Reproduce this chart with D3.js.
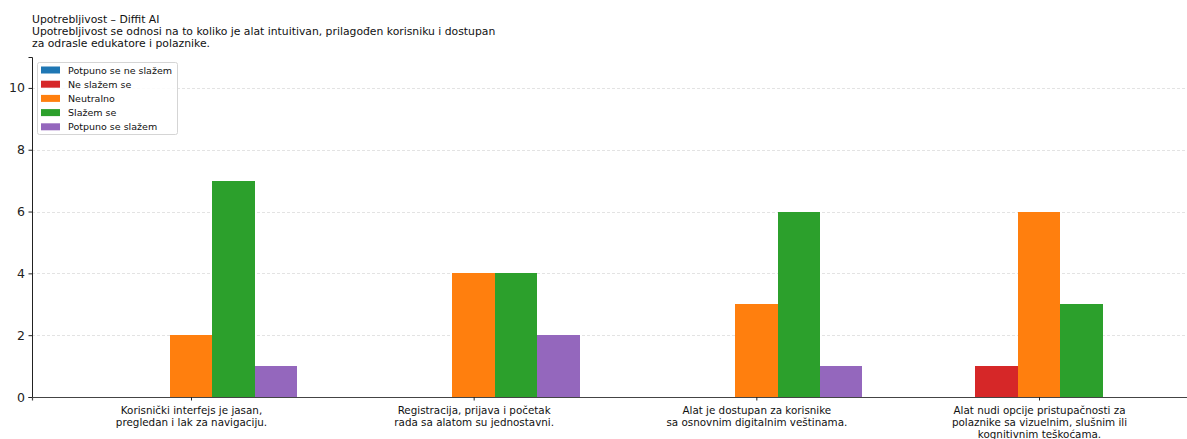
<!DOCTYPE html>
<html>
<head>
<meta charset="utf-8">
<script src="https://cdn.jsdelivr.net/npm/d3@7"></script>
<style>
  html, body { margin: 0; padding: 0; background: #fff; }
  svg { display: block; font-family: "DejaVu Sans", sans-serif; }
</style>
</head>
<body>
<svg id="chart" width="1187" height="439"></svg>
<script>
const titleLines = [
  "Upotrebljivost – Diffit AI",
  "Upotrebljivost se odnosi na to koliko je alat intuitivan, prilagođen korisniku i dostupan",
  "za odrasle edukatore i polaznike."
];
const categories = [
  "Korisnički interfejs je jasan,\npregledan i lak za navigaciju.",
  "Registracija, prijava i početak\nrada sa alatom su jednostavni.",
  "Alat je dostupan za korisnike\nsa osnovnim digitalnim veštinama.",
  "Alat nudi opcije pristupačnosti za\npolaznike sa vizuelnim, slušnim ili\nkognitivnim teškoćama."
];
const seriesNames = ["Potpuno se ne slažem", "Ne slažem se", "Neutralno", "Slažem se", "Potpuno se slažem"];
const seriesColors = ["#1f77b4", "#d62728", "#ff7f0e", "#2ca02c", "#9467bd"];
const potpunoNeSlazem = [0, 0, 0, 0];
const neSlazem = [0, 0, 0, 1];
const neutralno = [2, 4, 3, 6];
const slazem = [7, 4, 6, 3];
const potpunoSlazem = [1, 2, 1, 0];
const seriesValues = [potpunoNeSlazem, neSlazem, neutralno, slazem, potpunoSlazem];
const yTicks = [0, 2, 4, 6, 8, 10];

const svg = d3.select("#chart");
const mLeft = 32, mRight = 1198, mTop = 57, mBottom = 397;

const x = d3.scalePoint().domain(categories).range([mLeft, mRight]).padding(0.5625);
const step = x.step();
const barW = 0.15 * step;
const xs = d3.scaleBand().domain(seriesNames).range([-2.5 * barW, 2.5 * barW]).padding(0);
const y = d3.scaleLinear().domain([0, 11]).range([mBottom, mTop]);

// grid
svg.append("g").selectAll("line").data(yTicks.filter(d => d > 0)).join("line")
  .attr("x1", mLeft).attr("x2", mRight)
  .attr("y1", d => Math.round(y(d)) + 0.5).attr("y2", d => Math.round(y(d)) + 0.5)
  .attr("stroke", "#dcdcdc").attr("stroke-width", 0.8).attr("stroke-dasharray", "3,2");

// bars
seriesNames.forEach((s, si) => {
  svg.append("g").attr("shape-rendering", "crispEdges")
    .selectAll("rect").data(seriesValues[si]).join("rect")
    .attr("x", (d, i) => x(categories[i]) + xs(s))
    .attr("width", xs.bandwidth())
    .attr("y", d => y(d))
    .attr("height", d => y(0) - y(d))
    .attr("fill", seriesColors[si]);
});

// y axis
const yAxis = d3.axisLeft(y).tickValues(yTicks).tickSize(3.5).tickPadding(3.5).tickFormat(d3.format("d"));
const gy = svg.append("g").attr("transform", `translate(${mLeft},0)`).call(yAxis);
gy.select(".domain").attr("stroke", "#222").attr("stroke-width", 1);
gy.selectAll(".tick line").attr("stroke", "#222");
gy.selectAll(".tick text").attr("font-size", "12.5px").attr("fill", "#222")
  .attr("font-family", "DejaVu Sans, sans-serif");

// x axis
const xAxis = d3.axisBottom(x).tickSize(3.5).tickFormat("");
const gx = svg.append("g").attr("transform", `translate(0,${mBottom})`).call(xAxis);
gx.select(".domain").attr("stroke", "#444").attr("stroke-width", 1.2);
gx.selectAll(".tick line").attr("stroke", "#222");
gx.selectAll(".tick").each(function(d) {
  const lines = d.split("\n");
  const t = d3.select(this).append("text")
    .attr("text-anchor", "middle").attr("fill", "#111")
    .attr("font-size", "10.35px").attr("font-family", "DejaVu Sans, sans-serif");
  lines.forEach((ln, i) => {
    t.append("tspan").attr("x", 0).attr("y", 16.5 + i * 12.2).text(ln);
  });
});

// title
const tt = svg.append("text").attr("font-size", "10.8px").attr("fill", "#111");
titleLines.forEach((ln, i) => {
  tt.append("tspan").attr("x", 32).attr("y", 23.3 + i * 12).text(ln);
});

// legend
const lg = svg.append("g");
lg.append("rect").attr("x", 37.5).attr("y", 62.5).attr("width", 140).attr("height", 72)
  .attr("rx", 2).attr("fill", "#fff").attr("fill-opacity", 0.85)
  .attr("stroke", "#d5d5d5").attr("stroke-width", 1);
seriesNames.forEach((s, i) => {
  const yy = 70 + i * 14.2;
  lg.append("rect").attr("x", 41).attr("y", yy - 3.5).attr("width", 19).attr("height", 7)
    .attr("fill", seriesColors[i]);
  lg.append("text").attr("x", 68).attr("y", yy + 3.5).attr("font-size", "9.5px")
    .attr("fill", "#111").text(s);
});
</script>
</body>
</html>
